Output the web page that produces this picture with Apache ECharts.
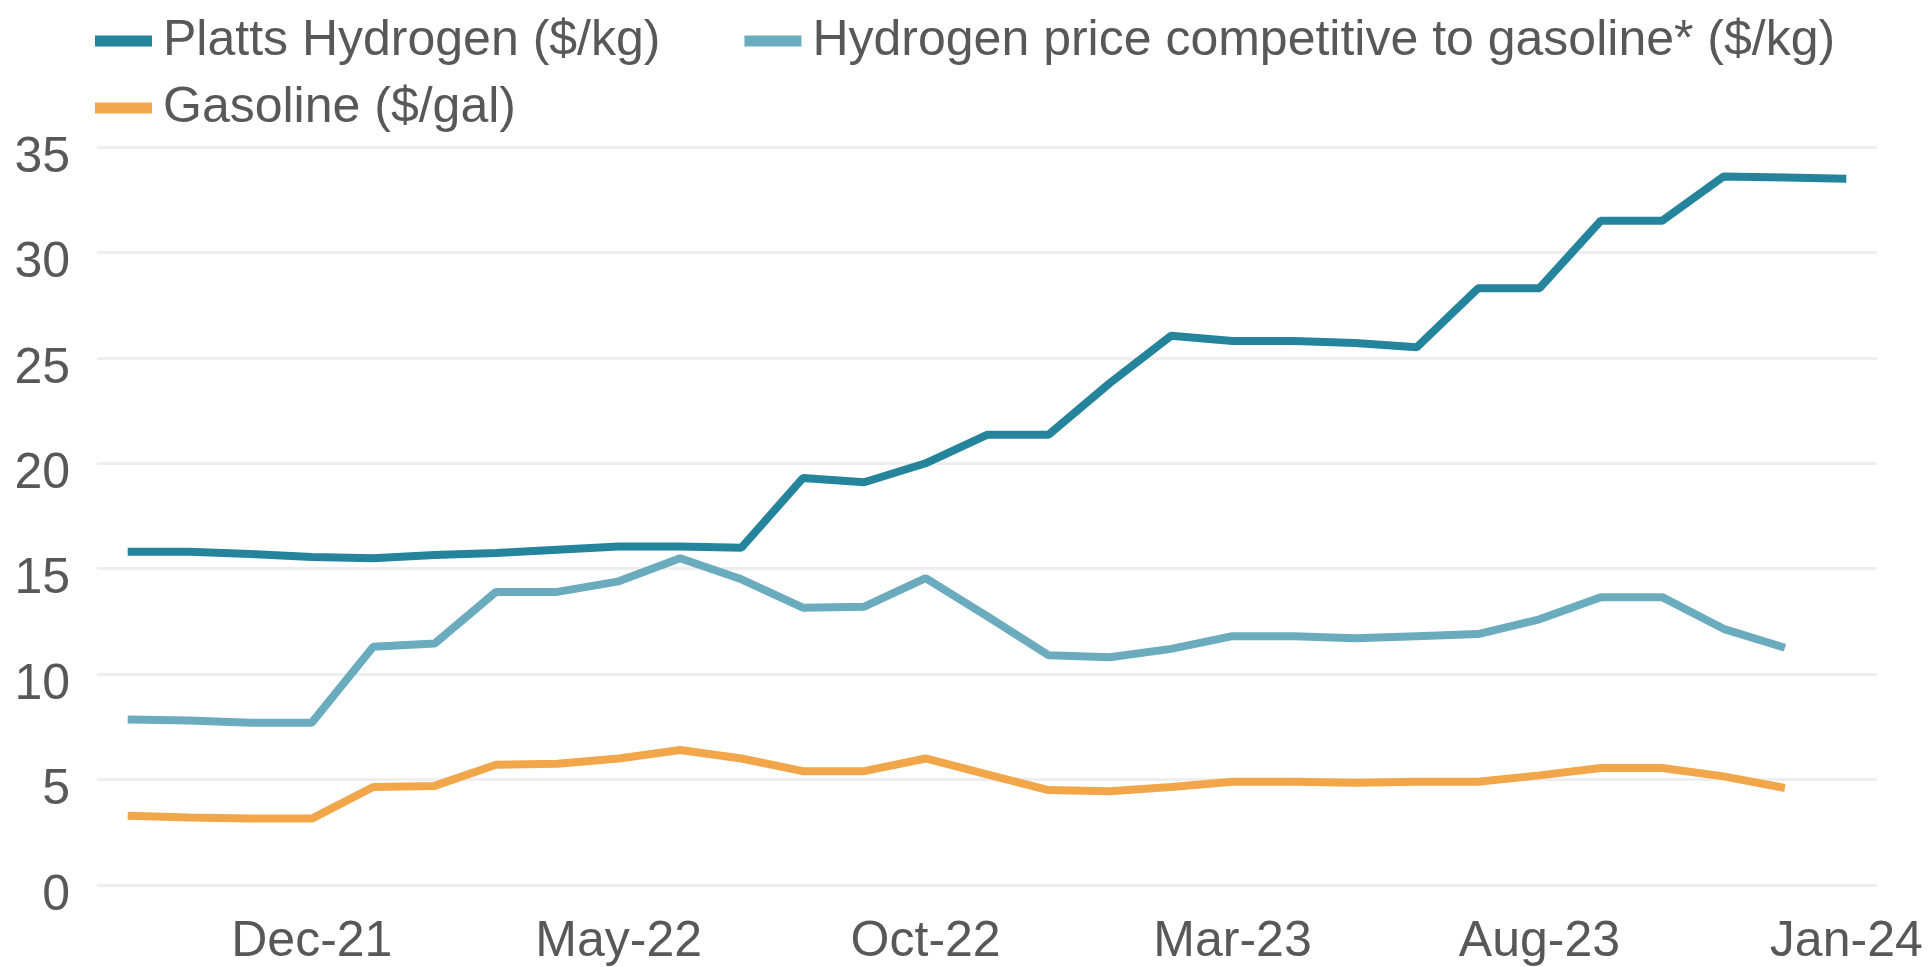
<!DOCTYPE html>
<html>
<head>
<meta charset="utf-8">
<script src="https://cdn.jsdelivr.net/npm/echarts@6/dist/echarts.min.js"></script>
<style>
  html, body { margin: 0; padding: 0; background: #fff; }
  #chart { width: 1928px; height: 967px; }
</style>
</head>
<body>
<div id="chart"></div>
<script>
const months = [
  "Sep-21", "Oct-21", "Nov-21", "Dec-21", "Jan-22", "Feb-22", "Mar-22", "Apr-22",
  "May-22", "Jun-22", "Jul-22", "Aug-22", "Sep-22", "Oct-22", "Nov-22", "Dec-22",
  "Jan-23", "Feb-23", "Mar-23", "Apr-23", "May-23", "Jun-23", "Jul-23", "Aug-23",
  "Sep-23", "Oct-23", "Nov-23", "Dec-23", "Jan-24"
];

const plattsHydrogen = [
  15.8, 15.8, 15.7, 15.55, 15.5, 15.65, 15.75, 15.9, 16.05, 16.05, 16.0,
  19.3, 19.1, 20.0, 21.35, 21.35, 23.8, 26.05, 25.8, 25.8, 25.7, 25.5,
  28.3, 28.3, 31.5, 31.5, 33.6, 33.55, 33.5
];

const competitiveHydrogen = [
  7.85, 7.8, 7.7, 7.7, 11.3, 11.45, 13.9, 13.9, 14.4, 15.5, 14.5,
  13.15, 13.2, 14.55, 12.75, 10.9, 10.8, 11.2, 11.8, 11.8, 11.7, 11.8,
  11.9, 12.6, 13.65, 13.65, 12.15, 11.25
];

const gasoline = [
  3.28, 3.2, 3.15, 3.15, 4.65, 4.7, 5.7, 5.75, 6.0, 6.4, 6.0,
  5.4, 5.4, 6.0, 5.25, 4.5, 4.45, 4.65, 4.9, 4.9, 4.85, 4.9,
  4.9, 5.2, 5.55, 5.55, 5.15, 4.6
];

const names = [
  "Platts Hydrogen ($/kg)",
  "Hydrogen price competitive to gasoline* ($/kg)",
  "Gasoline ($/gal)"
];

const textColor = "#585858";
const fontFamily = "'Liberation Sans', Arial, sans-serif";

const legendText = {
  color: textColor,
  fontSize: 50,
  fontFamily: fontFamily,
  lineHeight: 52,
  padding: [0, 0, 0, 6]
};

const chart = echarts.init(document.getElementById("chart"));

chart.setOption({
  animation: false,
  backgroundColor: "#ffffff",
  legend: [
    {
      data: [names[0], names[1]],
      left: 90,
      top: 10,
      icon: "rect",
      itemWidth: 57,
      itemHeight: 11,
      itemGap: 84,
      textStyle: legendText
    },
    {
      data: [names[2]],
      left: 90,
      top: 77,
      icon: "rect",
      itemWidth: 57,
      itemHeight: 11,
      textStyle: legendText
    }
  ],
  grid: {
    left: 97,
    right: 51,
    top: 147,
    bottom: 79,
    containLabel: false
  },
  xAxis: {
    type: "category",
    data: months,
    boundaryGap: true,
    axisLine: { show: false },
    axisTick: { show: false },
    axisLabel: {
      interval: (i) => (i - 3) % 5 === 0,
      color: textColor,
      fontSize: 50,
      fontFamily: fontFamily,
      margin: 32,
      hideOverlap: false
    },
    splitLine: { show: false }
  },
  yAxis: {
    type: "value",
    min: 0,
    max: 35,
    interval: 5,
    axisLine: { show: false },
    axisTick: { show: false },
    axisLabel: {
      color: textColor,
      fontSize: 50,
      fontFamily: fontFamily,
      margin: 27,
      verticalAlign: "top",
      lineHeight: 22
    },
    splitLine: {
      lineStyle: { color: "#eeeeee", width: 3 }
    }
  },
  series: [
    {
      name: names[1],
      type: "line",
      data: competitiveHydrogen,
      symbol: "none",
      color: "#6aacbd",
      lineStyle: { width: 8, color: "#6aacbd" },
      z: 2
    },
    {
      name: names[2],
      type: "line",
      data: gasoline,
      symbol: "none",
      color: "#f2a64a",
      lineStyle: { width: 8, color: "#f2a64a" },
      z: 2
    },
    {
      name: names[0],
      type: "line",
      data: plattsHydrogen,
      symbol: "none",
      color: "#23849c",
      lineStyle: { width: 8, color: "#23849c" },
      z: 3
    }
  ]
});
</script>
</body>
</html>
